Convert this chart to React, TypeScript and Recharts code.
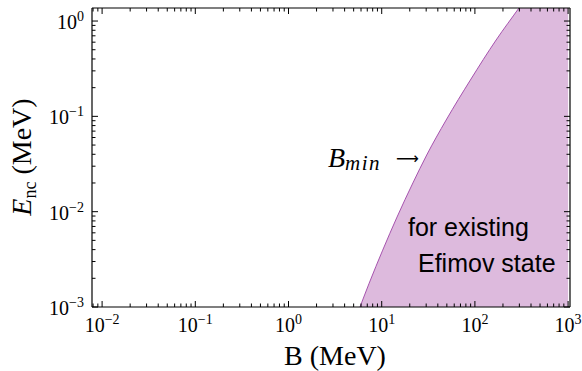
import { Area, ComposedChart, Line, XAxis, YAxis } from 'recharts';

// B (MeV) along the lower edge of the allowed region
const bindingValues = [5.85, 7.34, 10.25, 14.6, 21.6, 30.4, 49.1, 89.3, 168.8, 297, 1000];
// E_nc (MeV) of that edge; the last point lies above the frame and is clipped
const energyValues = [0.001, 0.00178, 0.00395, 0.00878, 0.02, 0.0393, 0.0914, 0.24, 0.632, 1.37, 7.2];

const xTicks = [
  0.008, 0.009,
  0.01, 0.02, 0.03, 0.04, 0.05, 0.06, 0.07, 0.08, 0.09,
  0.1, 0.2, 0.3, 0.4, 0.5, 0.6, 0.7, 0.8, 0.9,
  1, 2, 3, 4, 5, 6, 7, 8, 9,
  10, 20, 30, 40, 50, 60, 70, 80, 90,
  100, 200, 300, 400, 500, 600, 700, 800, 900,
  1000
];
const yTicks = [
  0.001, 0.002, 0.003, 0.004, 0.005, 0.006, 0.007, 0.008, 0.009,
  0.01, 0.02, 0.03, 0.04, 0.05, 0.06, 0.07, 0.08, 0.09,
  0.1, 0.2, 0.3, 0.4, 0.5, 0.6, 0.7, 0.8, 0.9,
  1
];

const xDomain: [number, number] = [0.00779, 1048];
const yDomain: [number, number] = [0.001, 1.37];

const rows = bindingValues.map((b, i) => ({ b, e: energyValues[i] }));

const serif = '"Liberation Serif", "DejaVu Serif", serif';
const sans = '"Liberation Sans", "DejaVu Sans", sans-serif';

const isMajor = (v: number) => Math.abs(Math.log10(v) - Math.round(Math.log10(v))) < 1e-6;
const expLabel = (v: number) => {
  const n = Math.round(Math.log10(v));
  return n < 0 ? `\u2212${-n}` : `${n}`;
};

type TickProps = {
  x: number;
  y: number;
  payload: { value: number };
  side: 'bottom' | 'top' | 'left' | 'right';
};

const AxisTick = ({ x, y, payload, side }: TickProps) => {
  const v = payload.value;
  const major = isMajor(v);
  const len = major ? 6 : 3.5;
  let line;
  if (side === 'bottom') line = <line x1={x} y1={y} x2={x} y2={y - len} />;
  else if (side === 'top') line = <line x1={x} y1={y} x2={x} y2={y + len} />;
  else if (side === 'left') line = <line x1={x} y1={y} x2={x + len} y2={y} />;
  else line = <line x1={x} y1={y} x2={x - len} y2={y} />;

  let label = null;
  if (major && side === 'bottom') {
    label = (
      <text x={x} y={y + 25} textAnchor="middle" fontFamily={serif} fontSize={20} fill="#000" stroke="none">
        <tspan>10</tspan>
        <tspan dy={-8} fontSize={14}>{expLabel(v)}</tspan>
      </text>
    );
  } else if (major && side === 'left') {
    label = (
      <text x={x - 8} y={y + 8} textAnchor="end" fontFamily={serif} fontSize={20} fill="#000" stroke="none">
        <tspan>10</tspan>
        <tspan dy={-8} fontSize={14}>{expLabel(v)}</tspan>
      </text>
    );
  }
  return (
    <g stroke="#000" strokeWidth={1}>
      {line}
      {label}
    </g>
  );
};

export default function App() {
  return (
    <div style={{ position: 'absolute', left: 0, top: 0, width: 582, height: 371, background: '#fff' }}>
      <ComposedChart
        width={582}
        height={371}
        data={rows}
        margin={{ top: 0, right: 0, bottom: 0, left: 0 }}
      >
        <XAxis
          dataKey="b"
          type="number"
          scale="log"
          domain={xDomain}
          allowDataOverflow
          ticks={xTicks}
          interval={0}
          height={64}
          tickSize={0}
          tickMargin={0}
          tickLine={false}
          axisLine={{ stroke: '#000', strokeWidth: 1.2 }}
          tick={(p: any) => <AxisTick {...p} side="bottom" />}
        />
        <XAxis
          xAxisId="top"
          orientation="top"
          dataKey="b"
          type="number"
          scale="log"
          domain={xDomain}
          allowDataOverflow
          ticks={xTicks}
          interval={0}
          height={8}
          tickSize={0}
          tickMargin={0}
          tickLine={false}
          axisLine={{ stroke: '#000', strokeWidth: 1.2 }}
          tick={(p: any) => <AxisTick {...p} side="top" />}
        />
        <YAxis
          type="number"
          scale="log"
          domain={yDomain}
          allowDataOverflow
          ticks={yTicks}
          interval={0}
          width={92}
          tickSize={0}
          tickMargin={0}
          tickLine={false}
          axisLine={{ stroke: '#000', strokeWidth: 1.2 }}
          tick={(p: any) => <AxisTick {...p} side="left" />}
        />
        <YAxis
          yAxisId="right"
          orientation="right"
          type="number"
          scale="log"
          domain={yDomain}
          allowDataOverflow
          ticks={yTicks}
          interval={0}
          width={12}
          tickSize={0}
          tickMargin={0}
          tickLine={false}
          axisLine={{ stroke: '#000', strokeWidth: 1.2 }}
          tick={(p: any) => <AxisTick {...p} side="right" />}
        />
        <Area
          dataKey="e"
          type="monotone"
          baseValue="dataMin"
          fill="#ddbadd"
          fillOpacity={1}
          stroke="#a653ae"
          strokeWidth={1}
          dot={false}
          activeDot={false}
          isAnimationActive={false}
        />
        <Line
          xAxisId="top"
          yAxisId="right"
          dataKey="e"
          stroke="none"
          dot={false}
          activeDot={false}
          isAnimationActive={false}
        />
      </ComposedChart>
      {/* annotations and axis titles, drawn above the filled region */}
      <svg
        width={582}
        height={371}
        style={{ position: 'absolute', left: 0, top: 0, pointerEvents: 'none' }}
      >
        <text x={335} y={365} textAnchor="middle" fontFamily={serif} fontSize={28} fill="#000">
          B (MeV)
        </text>
        <text transform="translate(31,157) rotate(-90)" textAnchor="middle" fontFamily={serif} fontSize={28} fill="#000">
          <tspan fontStyle="italic">E</tspan>
          <tspan fontSize={18} dy={5}>nc</tspan>
          <tspan dy={-5}> (MeV)</tspan>
        </text>
        <text x={328} y={167} fontFamily={serif} fontSize={28} fill="#000">
          <tspan fontStyle="italic">B</tspan>
          <tspan fontStyle="italic" fontSize={21} dy={3} letterSpacing={1.5}>min</tspan>
        </text>
        <text x={396} y={164} fontFamily='"DejaVu Sans", sans-serif' fontSize={16} fill="#000">
          {'\u27F6'}
        </text>
        <text x={408} y={236} fontFamily={sans} fontSize={25} fill="#000">
          for existing
        </text>
        <text x={418} y={272} fontFamily={sans} fontSize={25} fill="#000">
          Efimov state
        </text>
      </svg>
    </div>
  );
}
